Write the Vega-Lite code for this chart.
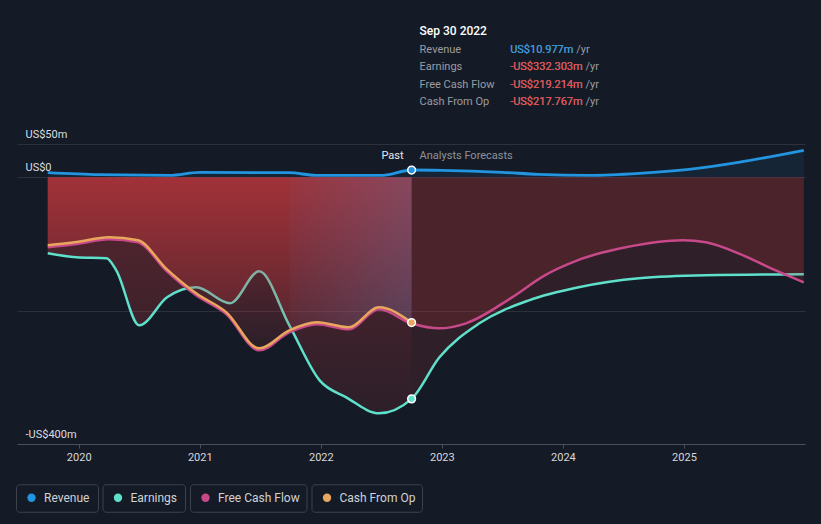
{
  "$schema": "https://vega.github.io/schema/vega-lite/v6.json",
  "width": 788,
  "height": 300,
  "autosize": "none",
  "padding": {"left": 17, "top": 144, "right": 16, "bottom": 80},
  "background": "#151b26",
  "config": {"view": {"stroke": null}, "text": {"font": "Roboto"}, "axis": {"labelFont": "Roboto"}, "legend": {"labelFont": "Roboto"}},
  "datasets": {
    "s": [
      {"d": 2019.744, "s": "Revenue", "v": 7},
      {"d": 2020.17, "s": "Revenue", "v": 4},
      {"d": 2020.75, "s": "Revenue", "v": 3},
      {"d": 2021.0, "s": "Revenue", "v": 7.5},
      {"d": 2021.74, "s": "Revenue", "v": 7},
      {"d": 2021.96, "s": "Revenue", "v": 3},
      {"d": 2022.51, "s": "Revenue", "v": 3},
      {"d": 2022.75, "s": "Revenue", "v": 10.977},
      {"d": 2023.0, "s": "Revenue", "v": 10.5},
      {"d": 2023.5, "s": "Revenue", "v": 7.5},
      {"d": 2023.8, "s": "Revenue", "v": 4.5},
      {"d": 2024.22, "s": "Revenue", "v": 3},
      {"d": 2024.63, "s": "Revenue", "v": 6},
      {"d": 2025.04, "s": "Revenue", "v": 12},
      {"d": 2025.45, "s": "Revenue", "v": 22.5},
      {"d": 2025.99, "s": "Revenue", "v": 40.5},
      {"d": 2019.744, "s": "Earnings", "v": -114},
      {"d": 2019.98, "s": "Earnings", "v": -120},
      {"d": 2020.23, "s": "Earnings", "v": -121.5},
      {"d": 2020.31, "s": "Earnings", "v": -139.5},
      {"d": 2020.5, "s": "Earnings", "v": -222},
      {"d": 2020.73, "s": "Earnings", "v": -180},
      {"d": 2020.97, "s": "Earnings", "v": -165},
      {"d": 2021.25, "s": "Earnings", "v": -189},
      {"d": 2021.49, "s": "Earnings", "v": -141},
      {"d": 2021.74, "s": "Earnings", "v": -222},
      {"d": 2021.99, "s": "Earnings", "v": -304.5},
      {"d": 2022.21, "s": "Earnings", "v": -330},
      {"d": 2022.48, "s": "Earnings", "v": -354},
      {"d": 2022.75, "s": "Earnings", "v": -332.303},
      {"d": 2022.98, "s": "Earnings", "v": -270},
      {"d": 2023.31, "s": "Earnings", "v": -219},
      {"d": 2023.72, "s": "Earnings", "v": -184.5},
      {"d": 2024.13, "s": "Earnings", "v": -165},
      {"d": 2024.63, "s": "Earnings", "v": -151.5},
      {"d": 2025.18, "s": "Earnings", "v": -147},
      {"d": 2025.99, "s": "Earnings", "v": -145.5},
      {"d": 2019.744, "s": "Free Cash Flow", "v": -105},
      {"d": 2019.98, "s": "Free Cash Flow", "v": -100},
      {"d": 2020.25, "s": "Free Cash Flow", "v": -93},
      {"d": 2020.49, "s": "Free Cash Flow", "v": -97.5},
      {"d": 2020.72, "s": "Free Cash Flow", "v": -139.5},
      {"d": 2020.97, "s": "Free Cash Flow", "v": -177},
      {"d": 2021.22, "s": "Free Cash Flow", "v": -205.5},
      {"d": 2021.49, "s": "Free Cash Flow", "v": -259.5},
      {"d": 2021.74, "s": "Free Cash Flow", "v": -232.5},
      {"d": 2021.97, "s": "Free Cash Flow", "v": -220.5},
      {"d": 2022.23, "s": "Free Cash Flow", "v": -228},
      {"d": 2022.48, "s": "Free Cash Flow", "v": -198},
      {"d": 2022.75, "s": "Free Cash Flow", "v": -219.214},
      {"d": 2022.98, "s": "Free Cash Flow", "v": -226.5},
      {"d": 2023.2, "s": "Free Cash Flow", "v": -219},
      {"d": 2023.58, "s": "Free Cash Flow", "v": -180},
      {"d": 2023.85, "s": "Free Cash Flow", "v": -147},
      {"d": 2024.12, "s": "Free Cash Flow", "v": -124.5},
      {"d": 2024.52, "s": "Free Cash Flow", "v": -105},
      {"d": 2024.99, "s": "Free Cash Flow", "v": -94.5},
      {"d": 2025.18, "s": "Free Cash Flow", "v": -97.5},
      {"d": 2025.45, "s": "Free Cash Flow", "v": -114},
      {"d": 2025.72, "s": "Free Cash Flow", "v": -136.5},
      {"d": 2025.99, "s": "Free Cash Flow", "v": -157.5},
      {"d": 2019.744, "s": "Cash From Op", "v": -102},
      {"d": 2019.98, "s": "Cash From Op", "v": -97},
      {"d": 2020.25, "s": "Cash From Op", "v": -90},
      {"d": 2020.49, "s": "Cash From Op", "v": -94.5},
      {"d": 2020.72, "s": "Cash From Op", "v": -136.5},
      {"d": 2020.97, "s": "Cash From Op", "v": -174},
      {"d": 2021.22, "s": "Cash From Op", "v": -202.5},
      {"d": 2021.49, "s": "Cash From Op", "v": -256.5},
      {"d": 2021.74, "s": "Cash From Op", "v": -229.5},
      {"d": 2021.97, "s": "Cash From Op", "v": -217.5},
      {"d": 2022.23, "s": "Cash From Op", "v": -225},
      {"d": 2022.48, "s": "Cash From Op", "v": -195},
      {"d": 2022.75, "s": "Cash From Op", "v": -217.767}
    ],
    "tip": [
      {"label": "Revenue", "value": "US$10.977m"},
      {"label": "Earnings", "value": "-US$332.303m"},
      {"label": "Free Cash Flow", "value": "-US$219.214m"},
      {"label": "Cash From Op", "value": "-US$217.767m"}
    ],
    "ann": [{"past": "Past", "fut": "Analysts Forecasts", "date": "Sep 30 2022"}]
  },
  "layer": [
    {
      "mark": {"type": "rect", "color": {"gradient": "linear", "x1": 0, "y1": 0, "x2": 1, "y2": 0, "stops": [{"offset": 0, "color": "rgba(0,0,0,0)"}, {"offset": 1, "color": "rgba(0,0,0,0.3)"}]}},
      "encoding": {
        "x": {"datum": 2019.49, "type": "quantitative", "scale": {"domain": [2019.49, 2026.0], "nice": false, "zero": false},
          "axis": {"values": [2020, 2021, 2022, 2023, 2024, 2025], "format": "d", "title": null, "grid": false, "domainColor": "#4b505a", "tickColor": "#4b505a", "tickSize": 4, "labelColor": "#d6d7da", "labelFontSize": 11, "labelPadding": 3}},
        "x2": {"datum": 2021.75},
        "y": {"datum": -400, "type": "quantitative", "scale": {"domain": [-400, 50], "nice": false, "zero": false},
          "axis": {"values": [-400, -200, 0, 50], "title": null, "grid": true, "gridColor": "#2c313b", "domain": false, "ticks": false, "labelAlign": "left", "labelBaseline": "bottom", "labelPadding": -8, "labelOffset": -5, "labelColor": "#dcdde0", "labelFontSize": 11,
            "labelExpr": "datum.value == -200 ? '' : datum.value == 0 ? 'US$0' : datum.value < 0 ? '-US$' + abs(datum.value) + 'm' : 'US$' + datum.value + 'm'"}},
        "y2": {"datum": 50}
      }
    },
    {
      "mark": {"type": "rect", "color": {"gradient": "linear", "x1": 0, "y1": 0, "x2": 1, "y2": 0, "stops": [{"offset": 0, "color": "rgba(10,60,110,0.1)"}, {"offset": 1, "color": "rgba(10,60,110,0.34)"}]}},
      "encoding": {
        "x": {"datum": 2021.75, "type": "quantitative", "scale": {"domain": [2019.49, 2026.0], "nice": false, "zero": false}},
        "x2": {"datum": 2022.75},
        "y": {"datum": -400, "type": "quantitative", "scale": {"domain": [-400, 50], "nice": false, "zero": false}},
        "y2": {"datum": 50}
      }
    },
    {
      "data": {"name": "s"},
      "transform": [{"filter": "datum.s == 'Revenue'"}],
      "mark": {"type": "area", "interpolate": "monotone", "color": "#2394df", "opacity": 0.09},
      "encoding": {
        "x": {"field": "d", "type": "quantitative", "scale": {"domain": [2019.49, 2026.0], "nice": false, "zero": false}},
        "y": {"field": "v", "type": "quantitative", "scale": {"domain": [-400, 50], "nice": false, "zero": false}},
        "y2": {"datum": 0}
      }
    },
    {
      "data": {"name": "s"},
      "transform": [{"filter": "datum.s == 'Earnings' && datum.d <= 2022.75"}],
      "mark": {"type": "area", "interpolate": "monotone", "color": {"gradient": "linear", "x1": 0, "y1": 0, "x2": 0, "y2": 1, "stops": [{"offset": 0, "color": "rgba(216,58,63,0.35)"}, {"offset": 1, "color": "rgba(216,58,63,0.12)"}]}},
      "encoding": {
        "x": {"field": "d", "type": "quantitative", "scale": {"domain": [2019.49, 2026.0], "nice": false, "zero": false}},
        "y": {"field": "v", "type": "quantitative", "scale": {"domain": [-400, 50], "nice": false, "zero": false}},
        "y2": {"datum": 0}
      }
    },
    {
      "data": {"name": "s"},
      "transform": [{"filter": "datum.s == 'Earnings' && datum.d >= 2022.75"}],
      "mark": {"type": "area", "interpolate": "monotone", "color": "#d83a3f", "opacity": 0.133},
      "encoding": {
        "x": {"field": "d", "type": "quantitative", "scale": {"domain": [2019.49, 2026.0], "nice": false, "zero": false}},
        "y": {"field": "v", "type": "quantitative", "scale": {"domain": [-400, 50], "nice": false, "zero": false}},
        "y2": {"datum": 0}
      }
    },
    {
      "data": {"name": "s"},
      "transform": [{"filter": "datum.s == 'Earnings'"}],
      "mark": {"type": "line", "interpolate": "monotone", "strokeWidth": 2.5},
      "encoding": {
        "x": {"field": "d", "type": "quantitative", "scale": {"domain": [2019.49, 2026.0], "nice": false, "zero": false}},
        "y": {"field": "v", "type": "quantitative", "scale": {"domain": [-400, 50], "nice": false, "zero": false}},
        "color": {"field": "s", "type": "nominal",
          "scale": {"domain": ["Revenue", "Earnings", "Free Cash Flow", "Cash From Op"], "range": ["#2394df", "#5fe0cb", "#c8498a", "#e8a75d"]},
          "legend": {"orient": "none", "legendX": -1, "legendY": 340, "direction": "horizontal", "title": null, "symbolType": "circle", "symbolSize": 70, "symbolStrokeWidth": 0, "labelColor": "#d0d2d6", "labelFontSize": 12, "columnPadding": 3.5,
            "encode": {
              "symbols": {"update": {"fill": {"scale": "color", "field": "value"}, "x": {"value": 15.5}, "y": {"value": 13.5}}},
              "labels": {"update": {"x": {"value": 28}, "y": {"value": 13.5}, "baseline": {"value": "middle"}}},
              "entries": {"update": {"noBound": {"value": false}, "stroke": {"value": "#3c414b"}, "strokeWidth": {"value": 1}, "cornerRadius": {"value": 3},
                "width": {"signal": "datum.index == 0 ? 81.5 : datum.index == 1 ? 82 : datum.index == 2 ? 116 : 110"},
                "height": {"value": 27}}}
            }}
        }
      }
    },
    {
      "data": {"name": "s"},
      "transform": [{"filter": "datum.s == 'Free Cash Flow' && datum.d <= 2022.75"}],
      "mark": {"type": "area", "interpolate": "monotone", "color": {"gradient": "linear", "x1": 0, "y1": 0, "x2": 0, "y2": 1, "stops": [{"offset": 0, "color": "rgba(216,58,63,0.57)"}, {"offset": 1, "color": "rgba(216,58,63,0.1)"}]}},
      "encoding": {
        "x": {"field": "d", "type": "quantitative", "scale": {"domain": [2019.49, 2026.0], "nice": false, "zero": false}},
        "y": {"field": "v", "type": "quantitative", "scale": {"domain": [-400, 50], "nice": false, "zero": false}},
        "y2": {"datum": 0}
      }
    },
    {
      "data": {"name": "s"},
      "transform": [{"filter": "datum.s == 'Free Cash Flow' && datum.d >= 2022.75"}],
      "mark": {"type": "area", "interpolate": "monotone", "color": "#d83a3f", "opacity": 0.16},
      "encoding": {
        "x": {"field": "d", "type": "quantitative", "scale": {"domain": [2019.49, 2026.0], "nice": false, "zero": false}},
        "y": {"field": "v", "type": "quantitative", "scale": {"domain": [-400, 50], "nice": false, "zero": false}},
        "y2": {"datum": 0}
      }
    },
    {
      "data": {"name": "s"},
      "transform": [{"filter": "datum.s == 'Free Cash Flow' && datum.d >= 2021.74 && datum.d <= 2022.75"}],
      "mark": {"type": "area", "interpolate": "monotone", "color": {"gradient": "linear", "x1": 0, "y1": 0, "x2": 1, "y2": 0, "stops": [{"offset": 0, "color": "rgba(90,110,160,0.07)"}, {"offset": 1, "color": "rgba(90,110,160,0.36)"}]}},
      "encoding": {
        "x": {"field": "d", "type": "quantitative", "scale": {"domain": [2019.49, 2026.0], "nice": false, "zero": false}},
        "y": {"field": "v", "type": "quantitative", "scale": {"domain": [-400, 50], "nice": false, "zero": false}},
        "y2": {"datum": 0}
      }
    },
    {
      "mark": {"type": "rule", "color": "rgba(120,140,170,0.22)", "strokeWidth": 1},
      "encoding": {
        "x": {"datum": 2021.75, "type": "quantitative", "scale": {"domain": [2019.49, 2026.0], "nice": false, "zero": false}},
        "y": {"datum": -400, "type": "quantitative", "scale": {"domain": [-400, 50], "nice": false, "zero": false}},
        "y2": {"datum": 50}
      }
    },
    {
      "mark": {"type": "rule", "color": "rgba(70,110,150,0.55)", "strokeWidth": 1},
      "encoding": {
        "x": {"datum": 2022.75, "type": "quantitative", "scale": {"domain": [2019.49, 2026.0], "nice": false, "zero": false}},
        "y": {"datum": -400, "type": "quantitative", "scale": {"domain": [-400, 50], "nice": false, "zero": false}},
        "y2": {"datum": 87.5}
      }
    },
    {
      "mark": {"type": "rule", "color": "#b4b6bb", "strokeWidth": 1.2},
      "encoding": {
        "y": {"datum": 0, "type": "quantitative", "scale": {"domain": [-400, 50], "nice": false, "zero": false}}
      }
    },
    {
      "data": {"name": "s"},
      "transform": [{"filter": "datum.s == 'Free Cash Flow'"}],
      "mark": {"type": "line", "interpolate": "monotone", "strokeWidth": 2.5},
      "encoding": {
        "x": {"field": "d", "type": "quantitative", "scale": {"domain": [2019.49, 2026.0], "nice": false, "zero": false}},
        "y": {"field": "v", "type": "quantitative", "scale": {"domain": [-400, 50], "nice": false, "zero": false}},
        "color": {"field": "s", "type": "nominal"}
      }
    },
    {
      "data": {"name": "s"},
      "transform": [{"filter": "datum.s == 'Cash From Op'"}],
      "mark": {"type": "line", "interpolate": "monotone", "strokeWidth": 2.5},
      "encoding": {
        "x": {"field": "d", "type": "quantitative", "scale": {"domain": [2019.49, 2026.0], "nice": false, "zero": false}},
        "y": {"field": "v", "type": "quantitative", "scale": {"domain": [-400, 50], "nice": false, "zero": false}},
        "color": {"field": "s", "type": "nominal"}
      }
    },
    {
      "data": {"name": "s"},
      "transform": [{"filter": "datum.s == 'Revenue'"}],
      "mark": {"type": "line", "interpolate": "monotone", "strokeWidth": 2.8},
      "encoding": {
        "x": {"field": "d", "type": "quantitative", "scale": {"domain": [2019.49, 2026.0], "nice": false, "zero": false}},
        "y": {"field": "v", "type": "quantitative", "scale": {"domain": [-400, 50], "nice": false, "zero": false}},
        "color": {"field": "s", "type": "nominal"}
      }
    },
    {
      "data": {"name": "s"},
      "transform": [{"filter": "datum.d == 2022.75 && datum.s == 'Revenue'"}],
      "mark": {"type": "point", "filled": true, "fill": "#2394df", "stroke": "#ffffff", "strokeWidth": 1.5, "size": 60, "opacity": 1},
      "encoding": {
        "x": {"field": "d", "type": "quantitative", "scale": {"domain": [2019.49, 2026.0], "nice": false, "zero": false}},
        "y": {"field": "v", "type": "quantitative", "scale": {"domain": [-400, 50], "nice": false, "zero": false}}
      }
    },
    {
      "data": {"name": "s"},
      "transform": [{"filter": "datum.d == 2022.75 && datum.s == 'Earnings'"}],
      "mark": {"type": "point", "filled": true, "fill": "#5fe0cb", "stroke": "#ffffff", "strokeWidth": 1.5, "size": 60, "opacity": 1},
      "encoding": {
        "x": {"field": "d", "type": "quantitative", "scale": {"domain": [2019.49, 2026.0], "nice": false, "zero": false}},
        "y": {"field": "v", "type": "quantitative", "scale": {"domain": [-400, 50], "nice": false, "zero": false}}
      }
    },
    {
      "data": {"name": "s"},
      "transform": [{"filter": "datum.d == 2022.75 && datum.s == 'Cash From Op'"}],
      "mark": {"type": "point", "filled": true, "fill": "#e8a75d", "stroke": "#ffffff", "strokeWidth": 1.5, "size": 60, "opacity": 1},
      "encoding": {
        "x": {"field": "d", "type": "quantitative", "scale": {"domain": [2019.49, 2026.0], "nice": false, "zero": false}},
        "y": {"field": "v", "type": "quantitative", "scale": {"domain": [-400, 50], "nice": false, "zero": false}}
      }
    },
    {
      "data": {"name": "ann"},
      "mark": {"type": "text", "align": "right", "baseline": "middle", "dx": -8, "fontSize": 11, "color": "#e8e9eb"},
      "encoding": {
        "x": {"datum": 2022.75, "type": "quantitative", "scale": {"domain": [2019.49, 2026.0], "nice": false, "zero": false}},
        "y": {"datum": 31.5, "type": "quantitative", "scale": {"domain": [-400, 50], "nice": false, "zero": false}},
        "text": {"field": "past"}
      }
    },
    {
      "data": {"name": "ann"},
      "mark": {"type": "text", "align": "left", "baseline": "middle", "dx": 8, "fontSize": 11, "color": "#8f9299"},
      "encoding": {
        "x": {"datum": 2022.75, "type": "quantitative", "scale": {"domain": [2019.49, 2026.0], "nice": false, "zero": false}},
        "y": {"datum": 31.5, "type": "quantitative", "scale": {"domain": [-400, 50], "nice": false, "zero": false}},
        "text": {"field": "fut"}
      }
    },
    {
      "mark": {"type": "rect", "color": "#000000"},
      "encoding": {
        "x": {"datum": 2022.75, "type": "quantitative", "scale": {"domain": [2019.49, 2026.0], "nice": false, "zero": false}},
        "x2": {"datum": 2025.56},
        "y": {"datum": 87.5, "type": "quantitative", "scale": {"domain": [-400, 50], "nice": false, "zero": false}},
        "y2": {"datum": 243.5}
      }
    },
    {
      "data": {"name": "ann"},
      "mark": {"type": "text", "align": "left", "baseline": "middle", "fontSize": 12, "fontWeight": 500, "color": "#ffffff"},
      "encoding": {
        "x": {"datum": 2022.816, "type": "quantitative", "scale": {"domain": [2019.49, 2026.0], "nice": false, "zero": false}},
        "y": {"datum": 219.5, "type": "quantitative", "scale": {"domain": [-400, 50], "nice": false, "zero": false}},
        "text": {"field": "date"}
      }
    },
    {"mark": {"type": "rule", "color": "#3a3b40"}, "encoding": {"x": {"datum": 2022.816, "type": "quantitative", "scale": {"domain": [2019.49, 2026.0], "nice": false, "zero": false}}, "x2": {"datum": 2025.495}, "y": {"datum": 204.5, "type": "quantitative", "scale": {"domain": [-400, 50], "nice": false, "zero": false}}}},
    {"mark": {"type": "rule", "color": "#3a3b40"}, "encoding": {"x": {"datum": 2022.816, "type": "quantitative", "scale": {"domain": [2019.49, 2026.0], "nice": false, "zero": false}}, "x2": {"datum": 2025.495}, "y": {"datum": 178.5, "type": "quantitative", "scale": {"domain": [-400, 50], "nice": false, "zero": false}}}},
    {"mark": {"type": "rule", "color": "#3a3b40"}, "encoding": {"x": {"datum": 2022.816, "type": "quantitative", "scale": {"domain": [2019.49, 2026.0], "nice": false, "zero": false}}, "x2": {"datum": 2025.495}, "y": {"datum": 152, "type": "quantitative", "scale": {"domain": [-400, 50], "nice": false, "zero": false}}}},
    {"mark": {"type": "rule", "color": "#3a3b40"}, "encoding": {"x": {"datum": 2022.816, "type": "quantitative", "scale": {"domain": [2019.49, 2026.0], "nice": false, "zero": false}}, "x2": {"datum": 2025.495}, "y": {"datum": 126, "type": "quantitative", "scale": {"domain": [-400, 50], "nice": false, "zero": false}}}},
    {"mark": {"type": "rule", "color": "#3a3b40"}, "encoding": {"x": {"datum": 2022.816, "type": "quantitative", "scale": {"domain": [2019.49, 2026.0], "nice": false, "zero": false}}, "x2": {"datum": 2025.495}, "y": {"datum": 99, "type": "quantitative", "scale": {"domain": [-400, 50], "nice": false, "zero": false}}}},
    {
      "data": {"name": "tip"},
      "transform": [{"filter": "datum.label == 'Revenue'"}, {"calculate": "datum.value + ' /yr'", "as": "vy"}],
      "layer": [
        {"mark": {"type": "text", "align": "left", "baseline": "middle", "fontSize": 11, "color": "#9a9ca2"}, "encoding": {"x": {"datum": 2022.816, "type": "quantitative", "scale": {"domain": [2019.49, 2026.0], "nice": false, "zero": false}}, "y": {"datum": 191, "type": "quantitative", "scale": {"domain": [-400, 50], "nice": false, "zero": false}}, "text": {"field": "label"}}},
        {"mark": {"type": "text", "align": "left", "baseline": "middle", "fontSize": 11, "color": "#9a9ca2"}, "encoding": {"x": {"datum": 2023.564, "type": "quantitative", "scale": {"domain": [2019.49, 2026.0], "nice": false, "zero": false}}, "y": {"datum": 191, "type": "quantitative", "scale": {"domain": [-400, 50], "nice": false, "zero": false}}, "text": {"field": "vy"}}},
        {"mark": {"type": "text", "align": "left", "baseline": "middle", "fontSize": 11, "color": "#2394df"}, "encoding": {"x": {"datum": 2023.564, "type": "quantitative", "scale": {"domain": [2019.49, 2026.0], "nice": false, "zero": false}}, "y": {"datum": 191, "type": "quantitative", "scale": {"domain": [-400, 50], "nice": false, "zero": false}}, "text": {"field": "value"}}}
      ]
    },
    {
      "data": {"name": "tip"},
      "transform": [{"filter": "datum.label == 'Earnings'"}, {"calculate": "datum.value + ' /yr'", "as": "vy"}],
      "layer": [
        {"mark": {"type": "text", "align": "left", "baseline": "middle", "fontSize": 11, "color": "#9a9ca2"}, "encoding": {"x": {"datum": 2022.816, "type": "quantitative", "scale": {"domain": [2019.49, 2026.0], "nice": false, "zero": false}}, "y": {"datum": 165.5, "type": "quantitative", "scale": {"domain": [-400, 50], "nice": false, "zero": false}}, "text": {"field": "label"}}},
        {"mark": {"type": "text", "align": "left", "baseline": "middle", "fontSize": 11, "color": "#9a9ca2"}, "encoding": {"x": {"datum": 2023.564, "type": "quantitative", "scale": {"domain": [2019.49, 2026.0], "nice": false, "zero": false}}, "y": {"datum": 165.5, "type": "quantitative", "scale": {"domain": [-400, 50], "nice": false, "zero": false}}, "text": {"field": "vy"}}},
        {"mark": {"type": "text", "align": "left", "baseline": "middle", "fontSize": 11, "color": "#e84444"}, "encoding": {"x": {"datum": 2023.564, "type": "quantitative", "scale": {"domain": [2019.49, 2026.0], "nice": false, "zero": false}}, "y": {"datum": 165.5, "type": "quantitative", "scale": {"domain": [-400, 50], "nice": false, "zero": false}}, "text": {"field": "value"}}}
      ]
    },
    {
      "data": {"name": "tip"},
      "transform": [{"filter": "datum.label == 'Free Cash Flow'"}, {"calculate": "datum.value + ' /yr'", "as": "vy"}],
      "layer": [
        {"mark": {"type": "text", "align": "left", "baseline": "middle", "fontSize": 11, "color": "#9a9ca2"}, "encoding": {"x": {"datum": 2022.816, "type": "quantitative", "scale": {"domain": [2019.49, 2026.0], "nice": false, "zero": false}}, "y": {"datum": 138.5, "type": "quantitative", "scale": {"domain": [-400, 50], "nice": false, "zero": false}}, "text": {"field": "label"}}},
        {"mark": {"type": "text", "align": "left", "baseline": "middle", "fontSize": 11, "color": "#9a9ca2"}, "encoding": {"x": {"datum": 2023.564, "type": "quantitative", "scale": {"domain": [2019.49, 2026.0], "nice": false, "zero": false}}, "y": {"datum": 138.5, "type": "quantitative", "scale": {"domain": [-400, 50], "nice": false, "zero": false}}, "text": {"field": "vy"}}},
        {"mark": {"type": "text", "align": "left", "baseline": "middle", "fontSize": 11, "color": "#e84444"}, "encoding": {"x": {"datum": 2023.564, "type": "quantitative", "scale": {"domain": [2019.49, 2026.0], "nice": false, "zero": false}}, "y": {"datum": 138.5, "type": "quantitative", "scale": {"domain": [-400, 50], "nice": false, "zero": false}}, "text": {"field": "value"}}}
      ]
    },
    {
      "data": {"name": "tip"},
      "transform": [{"filter": "datum.label == 'Cash From Op'"}, {"calculate": "datum.value + ' /yr'", "as": "vy"}],
      "layer": [
        {"mark": {"type": "text", "align": "left", "baseline": "middle", "fontSize": 11, "color": "#9a9ca2"}, "encoding": {"x": {"datum": 2022.816, "type": "quantitative", "scale": {"domain": [2019.49, 2026.0], "nice": false, "zero": false}}, "y": {"datum": 113, "type": "quantitative", "scale": {"domain": [-400, 50], "nice": false, "zero": false}}, "text": {"field": "label"}}},
        {"mark": {"type": "text", "align": "left", "baseline": "middle", "fontSize": 11, "color": "#9a9ca2"}, "encoding": {"x": {"datum": 2023.564, "type": "quantitative", "scale": {"domain": [2019.49, 2026.0], "nice": false, "zero": false}}, "y": {"datum": 113, "type": "quantitative", "scale": {"domain": [-400, 50], "nice": false, "zero": false}}, "text": {"field": "vy"}}},
        {"mark": {"type": "text", "align": "left", "baseline": "middle", "fontSize": 11, "color": "#e84444"}, "encoding": {"x": {"datum": 2023.564, "type": "quantitative", "scale": {"domain": [2019.49, 2026.0], "nice": false, "zero": false}}, "y": {"datum": 113, "type": "quantitative", "scale": {"domain": [-400, 50], "nice": false, "zero": false}}, "text": {"field": "value"}}}
      ]
    }
  ]
}
